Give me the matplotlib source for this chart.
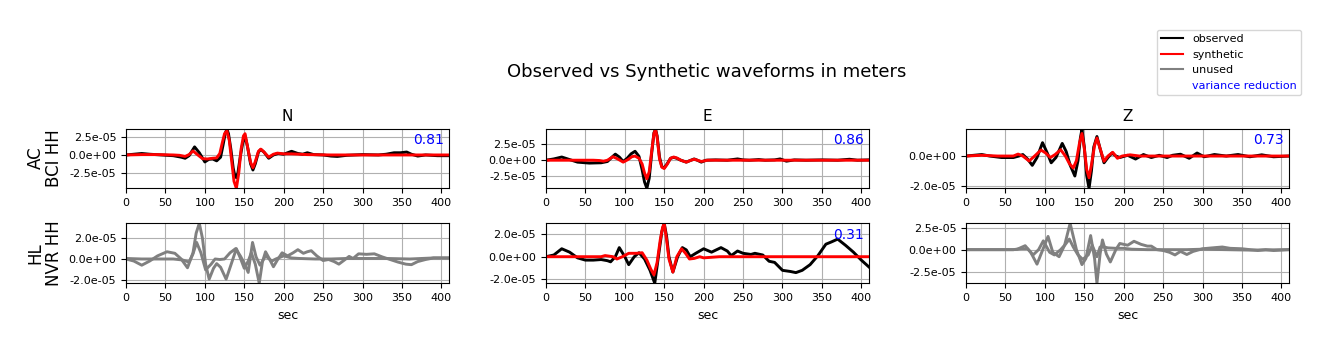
import numpy as np
import matplotlib
matplotlib.use("Agg")
import matplotlib.pyplot as plt
from matplotlib.lines import Line2D
from matplotlib.ticker import FormatStrFormatter, MultipleLocator

# waveform samples, values in 1e-5 m
# AC.BCI.HH (used)
ac_n_obs_t = [0, 10, 20, 30, 45, 60, 70, 75, 80, 87, 93, 100, 105, 110, 115, 120, 123, 126, 128, 130,
              133, 136, 138, 140, 142, 145, 148, 151, 154, 158, 161, 164, 168, 171, 175, 181, 187, 193, 200, 210,
              218, 224, 230, 238, 250, 260, 268, 280, 300, 320, 330, 340, 348, 356, 362, 370, 380, 395, 409.6]
ac_n_obs = [0, 0.1, 0.2, 0.1, 0.0, -0.1, -0.3, -0.45, -0.1, 1.1, 0.3, -0.95, -0.6, -0.55, -0.8, -0.3, 1.3, 3.0, 3.5, 2.9,
            0.8, -1.8, -2.8, -3.1, -2.4, -0.2, 1.6, 2.6, 1.2, -1.2, -2.05, -1.2, 0.4, 0.75, 0.4, -0.45, 0.0, 0.2, 0.1, 0.5,
            0.2, 0.1, 0.3, 0.05, 0.0, -0.15, -0.2, -0.05, 0.05, 0.0, 0.1, 0.3, 0.3, 0.4, 0.1, -0.15, 0.0, -0.1, -0.1]
ac_n_syn_t = [0, 20, 40, 60, 68, 75, 80, 85, 90, 97, 103, 110, 115, 119, 122, 125, 128, 131, 134, 137,
              140, 143, 146, 149, 151, 154, 158, 161, 164, 168, 171, 175, 181, 187, 192, 200, 210, 230, 260, 300, 409.6]
ac_n_syn = [0, 0.05, 0.05, 0.0, -0.05, -0.2, 0.05, 0.55, 0.1, -0.5, -0.55, -0.45, -0.4, 0.2, 1.6, 2.9, 3.3, 2.0, -0.8, -3.6,
            -4.55, -2.5, 0.8, 2.6, 2.9, 1.2, -1.0, -1.75, -0.9, 0.5, 0.8, 0.4, -0.3, 0.1, 0.25, 0.15, 0.15, 0.05, 0.0, 0.0, 0.0]

ac_e_obs_t = [0, 10, 20, 30, 40, 55, 70, 78, 83, 88, 93, 98, 103, 108, 113, 118, 122, 125, 128, 131,
              134, 137, 139, 141, 144, 147, 150, 154, 158, 162, 166, 171, 178, 184, 188, 192, 197, 203, 215, 230,
              243, 250, 258, 270, 278, 290, 297, 305, 315, 330, 350, 370, 385, 395, 409.6]
ac_e_obs = [0, 0.2, 0.5, 0.1, -0.3, -0.45, -0.4, -0.2, 0.4, 0.95, 0.5, -0.2, 0.3, 1.0, 1.4, 0.6, -1.5, -3.4, -4.4, -2.8,
            1.0, 4.3, 4.84, 3.8, 0.5, -1.0, -1.2, -0.5, 0.3, 0.45, 0.3, 0.0, -0.3, 0.0, 0.2, 0.0, -0.3, 0.0, 0.05, 0.0,
            0.2, 0.05, 0.0, 0.1, 0.0, 0.05, 0.2, -0.15, 0.05, 0.0, 0.05, 0.0, 0.15, 0.0, 0.05]
ac_e_syn_t = [0, 20, 40, 60, 68, 73, 78, 85, 91, 98, 104, 109, 113, 118, 122, 125, 128, 131, 134, 137,
              139, 141, 144, 147, 150, 154, 158, 162, 166, 171, 178, 184, 188, 192, 197, 205, 230, 409.6]
ac_e_syn = [0, 0, 0, 0, -0.05, -0.15, 0, 0.55, 0.2, -0.3, 0.1, 0.55, 0.65, 0.3, -0.6, -2.0, -2.9, -1.8, 1.3, 4.2,
            4.8, 3.6, 0.2, -1.1, -1.3, -0.6, 0.3, 0.5, 0.35, 0.0, -0.3, 0.0, 0.15, 0.0, -0.2, 0.0, 0.0, 0.0]

ac_z_obs_t = [0, 10, 20, 30, 45, 60, 67, 72, 78, 84, 90, 97, 103, 108, 114, 122, 127, 132, 138, 142,
              145, 147, 150, 153, 156, 159, 162, 166, 170, 175, 180, 185, 190, 195, 205, 215, 225, 235, 245, 255,
              262, 272, 283, 293, 302, 315, 330, 345, 360, 375, 390, 409.6]
ac_z_obs = [0, 0.05, 0.1, 0.0, -0.1, -0.1, 0.0, 0.1, -0.2, -0.62, -0.1, 0.89, 0.2, -0.45, -0.1, 0.84, 0.3, -0.6, -1.33, -0.3,
            1.2, 1.78, 0.6, -1.3, -2.15, -1.0, 0.6, 1.3, 0.5, -0.45, -0.1, 0.2, 0.0, -0.1, 0.05, -0.2, 0.1, -0.1, 0.05, -0.1,
            0.05, 0.12, -0.15, 0.2, -0.05, 0.1, 0.0, 0.1, -0.05, 0.08, -0.05, 0.0]
ac_z_syn_t = [0, 20, 40, 60, 66, 72, 80, 87, 95, 101, 107, 113, 120, 126, 131, 136, 140, 144, 147, 150,
              153, 156, 159, 163, 166, 170, 175, 180, 186, 192, 198, 208, 220, 409.6]
ac_z_syn = [0, 0.05, 0, 0, 0.13, 0, -0.33, 0, 0.4, 0.2, -0.1, 0.1, 0.42, 0, -0.5, -0.8, -0.3, 0.9, 1.5, 0.5,
            -0.9, -1.45, -0.6, 0.7, 1.2, 0.5, -0.35, 0, 0.25, -0.15, 0, 0.08, 0, 0]

# HL.NVR.HH (N and Z unused)
hl_n_obs_t = [0, 10, 20, 30, 40, 52, 62, 70, 78, 85, 89, 93, 97, 101, 105.5, 111, 115, 120, 127, 133,
              140, 145, 150, 155, 159, 164, 169, 173, 177, 182, 187, 192, 198, 205, 212, 218, 225, 230, 235, 242,
              250, 257, 264, 270, 277, 283, 288, 295, 305, 315, 325, 335, 345, 355, 362, 370, 380, 390, 409.6]
hl_n_obs = [0, -0.2, -0.6, -0.2, 0.3, 0.7, 0.55, 0.0, -0.85, 0.6, 2.5, 3.45, 2.0, -0.5, -1.95, -0.9, -0.45, -0.8, -1.95, -0.6,
            1.0, 0.1, -0.9, -0.2, 0.6, -0.5, -2.35, -0.3, 0.7, 0.0, -0.75, -0.1, 0.6, 0.3, 0.6, 0.9, 0.55, 0.7, 0.8, 0.3,
            -0.15, -0.05, -0.25, -0.5, -0.1, 0.25, 0.05, 0.5, 0.45, 0.5, 0.2, -0.05, -0.3, -0.5, -0.55, -0.25, -0.05, 0.1, 0.1]
hl_n_syn_t = [0, 20, 40, 60, 72, 80, 85, 89.6, 95, 101, 108, 113, 119, 125, 132, 139, 145, 150, 155, 160.5,
              165, 170, 177, 185, 190, 200, 210, 220, 240, 260, 280, 300, 330, 360, 390, 409.6]
hl_n_syn = [0.05, 0, 0, 0, -0.1, -0.3, 0.5, 1.6, 0.6, -1.05, -0.5, 0, -0.05, 0, 0.6, 1.0, 0.3, -0.4, -1.3, 1.6,
            0.2, -0.6, 0.3, -0.2, 0, 0.3, 0.1, 0.05, 0, 0, 0.05, 0.05, 0.05, 0, 0.1, 0.1]

hl_e_obs_t = [0, 10, 20, 30, 40, 50, 60, 70, 78, 82, 88, 93, 100, 105, 112, 118, 125, 132, 138, 143,
              147, 150, 153, 156, 161, 167, 173, 178, 183, 190, 200, 210, 222, 230, 235, 243, 250, 260, 265, 275,
              283, 290, 300, 310, 317, 325, 335, 345, 355, 362, 370, 380, 390, 400, 409.6]
hl_e_obs = [0, 0.15, 0.7, 0.4, -0.1, -0.3, -0.3, -0.25, -0.35, -0.45, 0.0, 0.8, 0.0, -0.7, 0.0, 0.35, -0.2, -1.2, -2.34, 0.2,
            2.2, 2.94, 1.8, 0.0, -1.35, 0.0, 0.8, 0.6, 0.0, 0.3, 0.7, 0.4, 0.8, 0.5, 0.1, 0.5, 0.3, 0.2, 0.3, 0.15,
            -0.4, -0.5, -1.2, -1.3, -1.4, -1.2, -0.7, 0.1, 1.1, 1.3, 1.55, 1.0, 0.4, -0.3, -0.9]
hl_e_syn_t = [0, 70, 75, 85, 90, 97, 105, 115, 122, 128, 133, 137, 141, 145, 148, 150, 153, 156, 161, 166,
              172, 177, 182, 188, 195, 200, 210, 220, 409.6]
hl_e_syn = [0, 0, 0.1, 0, -0.2, 0, 0.3, 0.3, 0.35, -0.3, -1.1, -1.6, -0.5, 1.5, 2.6, 2.9, 1.5, -0.2, -1.35, 0.0,
            0.7, 0.3, -0.2, -0.15, 0, -0.1, -0.05, 0, 0]

hl_z_obs_t = [0, 30, 60, 65, 75, 82, 90, 96, 104, 110, 118, 125, 132, 136, 140, 147, 152, 158, 163, 166,
              170, 173, 178, 183, 190, 195, 205, 213, 222, 230, 235, 242, 250, 258, 265, 272, 280, 288, 300, 312,
              325, 335, 350, 370, 380, 390, 409.6]
hl_z_obs = [0, 0, 0, 0.05, 0.45, -0.3, -1.65, -0.3, 1.5, -0.3, -0.8, 0.5, 2.99, 1.5, 0.0, -1.7, -1.0, 1.6, -1.0, -3.82,
            -0.5, 1.1, -0.5, -1.4, 0.0, 0.7, 0.5, 0.95, 0.6, 0.4, 0.4, 0.0, -0.1, -0.3, -0.6, -0.2, -0.55, -0.2, 0.1, 0.2,
            0.3, 0.15, 0.1, -0.1, 0.0, -0.1, 0.0]
hl_z_syn_t = [0, 60, 70, 78, 85, 92, 98, 106, 112, 120, 126, 131, 136, 142, 148, 155, 160, 166, 170, 175,
              180, 190, 200, 210, 230, 250, 280, 300, 330, 360, 409.6]
hl_z_syn = [0, 0, 0.1, 0.1, -0.6, 0, 1.0, -0.3, -0.6, 0, 0.6, 1.2, 0.3, -0.6, -1.1, -0.6, 0.5, -0.8, 0.3, 0.3,
            0.2, 0.15, 0.15, 0.05, 0, 0, 0, 0.05, 0, -0.05, 0]

components = ["N", "E", "Z"]
stations = ["AC\nBCI HH", "HL\nNVR HH"]
var_red = [["0.81", "0.86", "0.73"], [None, "0.31", None]]
used = [[True, True, True], [False, True, False]]
tick_step = [[2.5e-5, 2.5e-5, 2e-5], [2e-5, 2e-5, 2.5e-5]]

traces = [
    [(ac_n_obs_t, ac_n_obs, ac_n_syn_t, ac_n_syn),
     (ac_e_obs_t, ac_e_obs, ac_e_syn_t, ac_e_syn),
     (ac_z_obs_t, ac_z_obs, ac_z_syn_t, ac_z_syn)],
    [(hl_n_obs_t, hl_n_obs, hl_n_syn_t, hl_n_syn),
     (hl_e_obs_t, hl_e_obs, hl_e_syn_t, hl_e_syn),
     (hl_z_obs_t, hl_z_obs, hl_z_syn_t, hl_z_syn)],
]

fig = plt.figure(figsize=(13.29, 3.51), dpi=100)

lefts = [0.0948, 0.4108, 0.7269]
bottoms = [0.4635, 0.1929]
heights = [0.1681, 0.1709]

for i in range(2):
    for j in range(3):
        ax = fig.add_axes([lefts[j], bottoms[i], 0.2430, heights[i]])
        t_obs, obs, t_syn, syn = traces[i][j]
        obs = np.array(obs) * 1e-5
        syn = np.array(syn) * 1e-5
        if used[i][j]:
            c_obs, c_syn = "black", "red"
        else:
            c_obs, c_syn = "gray", "gray"
        ax.plot(t_obs, obs, color=c_obs, lw=2.1)
        ax.plot(t_syn, syn, color=c_syn, lw=2.1)
        ax.set_xlim(0, 409.6)
        ax.set_ylim(min(obs.min(), syn.min()), max(obs.max(), syn.max()))
        ax.yaxis.set_major_locator(MultipleLocator(tick_step[i][j]))
        ax.yaxis.set_major_formatter(FormatStrFormatter("%.1e"))
        ax.tick_params(labelsize=8)
        ax.grid(True)
        if var_red[i][j]:
            ax.text(0.985, 0.93, var_red[i][j], color="blue", fontsize=10,
                    ha="right", va="top", transform=ax.transAxes)
        if i == 0:
            ax.set_title(components[j], fontsize=11)
        else:
            ax.set_xlabel("sec", fontsize=9)

for k, yc in enumerate([0.55, 0.279]):
    fig.text(0.0335, yc, stations[k], rotation=90, fontsize=12, ha="center", va="center",
             multialignment="center", linespacing=1.0)

fig.suptitle("Observed vs Synthetic waveforms in meters", fontsize=13, x=0.532, y=0.795, va="center")

handles = [Line2D([], [], color="black"), Line2D([], [], color="red"),
           Line2D([], [], color="gray"), Line2D([], [], color="none")]
leg = fig.legend(handles, ["observed", "synthetic", "unused", "variance reduction"],
                 loc="upper right", bbox_to_anchor=(1307 / 1329, 1 - 24 / 351), fontsize=8)
leg.get_texts()[3].set_color("blue")

fig.savefig("out.png", dpi=100)
